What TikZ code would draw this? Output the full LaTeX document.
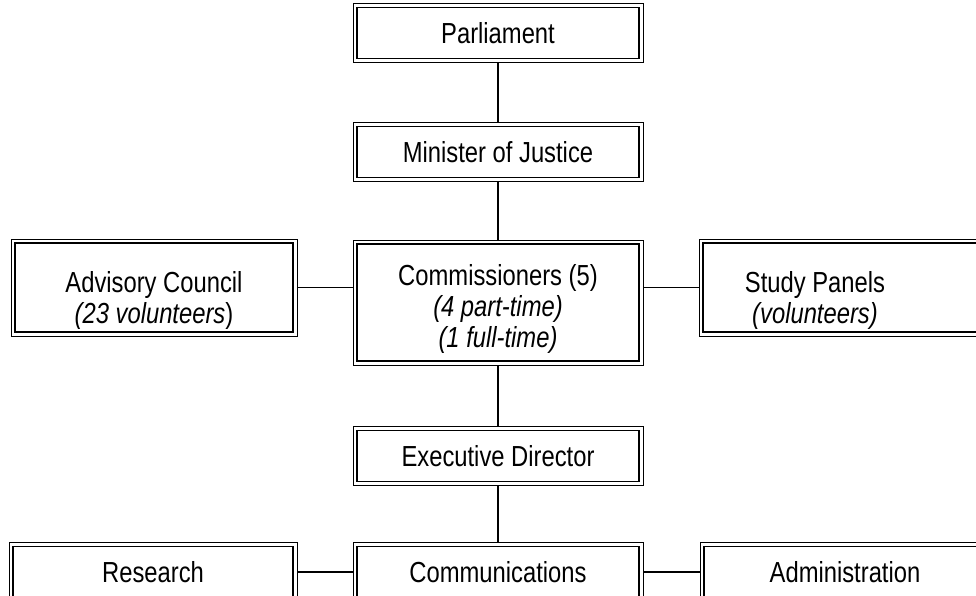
\documentclass[tikz,border=0pt]{standalone}
\usepackage{fontspec}
\setmainfont{Liberation Sans}[FakeStretch=0.82]
\usepackage{tikz}

% stacked lines, lowered inside their box
\newcommand{\boxlines}[2]{\raisebox{-#1}[\height][\depth]{\begin{tabular}{@{}c@{}}#2\end{tabular}}}

\begin{document}
\begin{tikzpicture}[
  x=1pt, y=-1pt,
  box/.style={draw, line width=1.8pt, inner sep=0pt, outer sep=4pt,
              minimum width=282pt, minimum height=51pt,
              font=\fontsize{29}{31}\selectfont,
              append after command={\pgfextra{\draw[line width=0.9pt]
                (\tikzlastnode.north west) rectangle (\tikzlastnode.south east);}}},
  link/.style={line width=1.5pt},
]
  \useasboundingbox (0,0) rectangle (976,596);
  \clip (0,0) rectangle (976,596);

  % Top chain
  \node[box] (parliament) at (498,33) {Parliament};
  \node[box] (minister) at (498,152) {Minister of Justice};

  % Middle row
  \node[box, minimum height=117pt] (commissioners) at (498,302.5)
    {\boxlines{8pt}{Commissioners (5)\\\textit{(4 part-time)}\\\textit{(1 full-time)}}};
  \node[box, minimum width=278pt, minimum height=89pt] (advisory) at (154,287.5)
    {\boxlines{14pt}{Advisory Council\\\textit{(23 volunteers})}};
  \node[box, minimum height=89pt] (panels) at (844,287.5)
    {\hspace*{-58pt}\boxlines{14pt}{Study Panels\\\textit{(volunteers)}}};

  % Staff
  \node[box] (director) at (498,456) {Executive Director};

  % Bottom row
  \node[box, minimum width=280pt] (research) at (153,572) {Research};
  \node[box] (communications) at (498,572) {Communications};
  \node[box] (administration) at (845,572) {Administration};

  % Connectors
  \draw[link] (parliament) -- (minister);
  \draw[link] (minister) -- (commissioners);
  \draw[link] (commissioners) -- (director);
  \draw[link] (director) -- (communications);
  \draw[link] (advisory.east) -- (advisory.east -| commissioners.west);
  \draw[link] (panels.west) -- (panels.west -| commissioners.east);
  \draw[link] (research) -- (communications);
  \draw[link] (communications) -- (administration);
\end{tikzpicture}
\end{document}
